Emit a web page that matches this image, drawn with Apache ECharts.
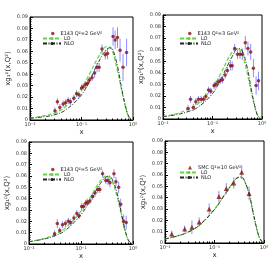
<!DOCTYPE html>
<html><head><meta charset="utf-8">
<script src="https://cdn.jsdelivr.net/npm/echarts@6/dist/echarts.min.js"></script>
<style>html,body{margin:0;padding:0;background:#fff}#c{width:273px;height:272px}</style>
</head><body><div id="c"></div>
<script>
// ---- data ----
const panelNames = ['E143 Q²=2 GeV²', 'E143 Q²=3 GeV²', 'E143 Q²=5 GeV²', 'SMC Q²=10 GeV²'];
const curveX = [0.01, 0.02, 0.03, 0.05, 0.1, 0.15, 0.2, 0.25, 0.3, 0.35, 0.4, 0.5, 0.6, 0.7, 0.8, 0.9, 1.0];
const lo1  = [0.0015, 0.004, 0.006, 0.012, 0.028, 0.042, 0.053, 0.060, 0.064, 0.064, 0.060, 0.043, 0.026, 0.013, 0.004, 0.001, 0];
const nlo1 = [0.0015, 0.003, 0.0045, 0.009, 0.022, 0.036, 0.048, 0.056, 0.061, 0.063, 0.062, 0.047, 0.028, 0.014, 0.0045, 0.001, 0];
const lo2  = [0.002, 0.005, 0.008, 0.013, 0.027, 0.040, 0.051, 0.058, 0.061, 0.060, 0.056, 0.040, 0.024, 0.012, 0.004, 0.001, 0];
const nlo2 = [0.002, 0.004, 0.006, 0.010, 0.022, 0.035, 0.046, 0.054, 0.060, 0.061, 0.059, 0.045, 0.027, 0.013, 0.004, 0.001, 0];
const lo3  = [0.002, 0.005, 0.008, 0.014, 0.029, 0.041, 0.051, 0.057, 0.060, 0.059, 0.055, 0.041, 0.025, 0.012, 0.004, 0.001, 0];
const nlo3 = [0.002, 0.0045, 0.007, 0.012, 0.026, 0.038, 0.048, 0.055, 0.059, 0.060, 0.057, 0.044, 0.027, 0.013, 0.004, 0.001, 0];
const lo4  = [0.0035, 0.007, 0.010, 0.016, 0.030, 0.041, 0.049, 0.055, 0.058, 0.058, 0.055, 0.043, 0.027, 0.014, 0.005, 0.0015, 0];
const nlo4 = [0.0035, 0.0068, 0.0098, 0.0158, 0.0295, 0.0405, 0.0485, 0.0545, 0.0578, 0.0582, 0.0553, 0.0435, 0.0275, 0.0142, 0.0052, 0.0015, 0];

const dx1 = [0.0305,0.034,0.038,0.044,0.049,0.055,0.061,0.071,0.080,0.089,0.100,0.108,0.120,0.130,0.142,0.160,0.180,0.200,0.220,0.250,0.290,0.320,0.410,0.450,0.500,0.560,0.640,0.750];
const dy1 = [0.008,0.016,0.011,0.014,0.015,0.017,0.016,0.019,0.023,0.022,0.028,0.029,0.031,0.032,0.035,0.037,0.041,0.046,0.046,0.062,0.057,0.058,0.073,0.070,0.072,0.061,0.046,0.059];
const de1 = [0.003,0.003,0.003,0.003,0.003,0.003,0.003,0.003,0.003,0.003,0.003,0.003,0.003,0.003,0.003,0.003,0.004,0.004,0.004,0.004,0.004,0.005,0.008,0.008,0.009,0.010,0.012,0.012];

const dx2 = [0.032,0.036,0.041,0.046,0.052,0.059,0.066,0.073,0.083,0.092,0.108,0.117,0.130,0.143,0.159,0.180,0.200,0.230,0.250,0.280,0.320,0.360,0.400,0.460,0.520,0.590,0.670,0.760,0.850];
const dy2 = [0.009,0.017,0.010,0.015,0.017,0.017,0.017,0.0195,0.025,0.024,0.029,0.030,0.032,0.033,0.034,0.038,0.042,0.046,0.046,0.061,0.056,0.056,0.056,0.066,0.061,0.058,0.044,0.029,0.033];
const de2 = [0.003,0.003,0.003,0.003,0.003,0.003,0.003,0.003,0.003,0.003,0.003,0.003,0.003,0.003,0.003,0.003,0.003,0.004,0.004,0.004,0.004,0.004,0.005,0.006,0.006,0.007,0.008,0.008,0.008];

const dx3 = [0.031,0.035,0.039,0.044,0.050,0.057,0.063,0.073,0.083,0.092,0.103,0.111,0.123,0.132,0.148,0.168,0.186,0.210,0.230,0.260,0.300,0.330,0.360,0.430,0.470,0.530,0.580,0.660,0.740];
const dy3 = [0.009,0.018,0.012,0.017,0.018,0.020,0.019,0.023,0.027,0.025,0.033,0.033,0.036,0.037,0.038,0.042,0.045,0.048,0.048,0.062,0.056,0.056,0.054,0.062,0.055,0.050,0.035,0.020,0.019];
const de3 = [0.003,0.004,0.003,0.003,0.003,0.003,0.003,0.003,0.003,0.003,0.003,0.003,0.003,0.003,0.003,0.003,0.003,0.003,0.003,0.003,0.003,0.004,0.004,0.004,0.004,0.005,0.005,0.006,0.006];

const dx4 = [0.0137,0.025,0.035,0.049,0.078,0.123,0.173,0.245,0.354,0.500];
const dy4 = [0.008,0.0124,0.0139,0.0186,0.030,0.041,0.048,0.053,0.0625,0.0437];
const de4 = [0.003,0.003,0.006,0.004,0.005,0.005,0.005,0.005,0.006,0.006];

const xTickLabels = {0.01: '10⁻²', 0.1: '10⁻¹', 1: '10⁰'};
const xMinorTicks = [0.02,0.03,0.04,0.05,0.06,0.07,0.08,0.09,0.2,0.3,0.4,0.5,0.6,0.7,0.8,0.9];

// ---- layout ----
const grids = [
  {left: 30, top: 17, width: 103, height: 103},
  {left: 163, top: 15, width: 99, height: 104},
  {left: 29, top: 142, width: 104, height: 102},
  {left: 165, top: 141, width: 99, height: 102}
];
const legendPos = [
  {left: 42, top: 31}, {left: 179, top: 31}, {left: 42, top: 167}, {left: 179, top: 165}
];
const curves = [[lo1,nlo1],[lo2,nlo2],[lo3,nlo3],[lo4,nlo4]];
const pts = [[dx1,dy1,de1],[dx2,dy2,de2],[dx3,dy3,de3],[dx4,dy4,de4]];

const GREEN = '#5fd93f', RED = '#8b1010', BLUE = '#7878ff';
const xAxes = [], yAxes = [], series = [], legends = [];
grids.forEach((g, i) => {
  xAxes.push({
    type: 'log', logBase: 10, min: 0.01, max: 1, gridIndex: i,
    name: 'x', nameLocation: 'middle', nameGap: 9,
    nameTextStyle: {fontSize: 7, color: '#222', fontFamily: 'DejaVu Sans'},
    axisLine: {lineStyle: {color: '#000', width: 1}},
    axisTick: {inside: true, length: 3, lineStyle: {color: '#000'}},
    axisLabel: {fontSize: 5, color: '#333', margin: 2, fontFamily: 'DejaVu Sans',
      formatter: v => xTickLabels[Math.round(v*100)/100] || ''},
    splitLine: {show: false}
  });
  xAxes.push({
    type: 'log', logBase: 10, min: 0.01, max: 1, gridIndex: i, position: 'bottom',
    axisLine: {show: false},
    axisTick: {show: true, inside: true, length: 1.5, customValues: xMinorTicks, lineStyle: {color: '#000'}},
    axisLabel: {show: false}, splitLine: {show: false}
  });
  yAxes.push({
    type: 'value', min: 0, max: 0.09, interval: 0.01, gridIndex: i,
    name: 'xg₁ᵖ(x,Q²)', nameLocation: 'middle', nameGap: 18,
    nameTextStyle: {fontSize: 7, color: '#222', fontFamily: 'DejaVu Sans'},
    axisLine: {show: true, lineStyle: {color: '#000', width: 1}},
    axisTick: {inside: true, length: 3, lineStyle: {color: '#000'}},
    minorTick: {show: true, splitNumber: 5, length: 1.5, lineStyle: {color: '#000'}},
    axisLabel: {fontSize: 5, color: '#333', margin: 2, fontFamily: 'DejaVu Sans',
      formatter: v => v === 0 ? '0' : v.toFixed(2)},
    splitLine: {show: false}
  });
  const [lo, nlo] = curves[i];
  const [px, py, pe] = pts[i];
  series.push({
    type: 'custom', xAxisIndex: 2*i, yAxisIndex: i, silent: true, z: 1,
    data: px.map((x, k) => [x, py[k] - pe[k], py[k] + pe[k]]),
    encode: {x: 0, y: [1, 2]},
    renderItem: (params, api) => {
      const a = api.coord([api.value(0), api.value(1)]);
      const b = api.coord([api.value(0), api.value(2)]);
      return {type: 'line', shape: {x1: a[0], y1: a[1], x2: b[0], y2: b[1]},
        style: {stroke: BLUE, lineWidth: 1, opacity: 0.85}};
    }
  });
  series.push({
    name: 'LO', type: 'line', xAxisIndex: 2*i, yAxisIndex: i, smooth: 0.4, symbol: 'none', z: 2,
    data: curveX.map((x, k) => [x, lo[k]]),
    lineStyle: {color: GREEN, width: 1.2, type: [4, 2]}, itemStyle: {color: GREEN}
  });
  series.push({
    name: 'NLO', type: 'line', xAxisIndex: 2*i, yAxisIndex: i, smooth: 0.4, symbol: 'none', z: 3,
    data: curveX.map((x, k) => [x, nlo[k]]),
    lineStyle: {color: '#222', width: 0.9, type: [4, 1.5, 1, 1.5]}, itemStyle: {color: '#222'}
  });
  series.push({
    name: panelNames[i], type: 'scatter', xAxisIndex: 2*i, yAxisIndex: i, z: 4,
    symbol: i === 3 ? 'triangle' : 'circle', symbolSize: i === 3 ? 5 : 3.5,
    data: px.map((x, k) => [x, py[k]]),
    itemStyle: {color: RED}
  });
  const L = legendPos[i].left, T = legendPos[i].top;
  // marker entry
  legends.push({
    orient: 'vertical', left: L + 9, top: T,
    itemWidth: i === 3 ? 4 : 3.5, itemHeight: i === 3 ? 4 : 3.5, itemGap: 0, padding: 0,
    data: [panelNames[i]],
    textStyle: {fontSize: 5, color: '#222', padding: [0,0,0,1], fontFamily: 'DejaVu Sans'},
    selectedMode: false
  });
  // line entries
  legends.push({
    orient: 'vertical', left: L, top: T + 5,
    itemWidth: 18, itemHeight: 4, itemGap: 0, padding: 0,
    data: ['LO', 'NLO'],
    textStyle: {fontSize: 5, color: '#222', padding: [0,0,0,-2], fontFamily: 'DejaVu Sans'},
    selectedMode: false
  });
});

const chart = echarts.init(document.getElementById('c'), null, {renderer: 'canvas'});
chart.setOption({
  animation: false,
  backgroundColor: '#fff',
  grid: grids.map(g => Object.assign({show: true, borderColor: '#000', borderWidth: 1, containLabel: false}, g)),
  xAxis: xAxes, yAxis: yAxes, series: series, legend: legends
});
</script></body></html>
